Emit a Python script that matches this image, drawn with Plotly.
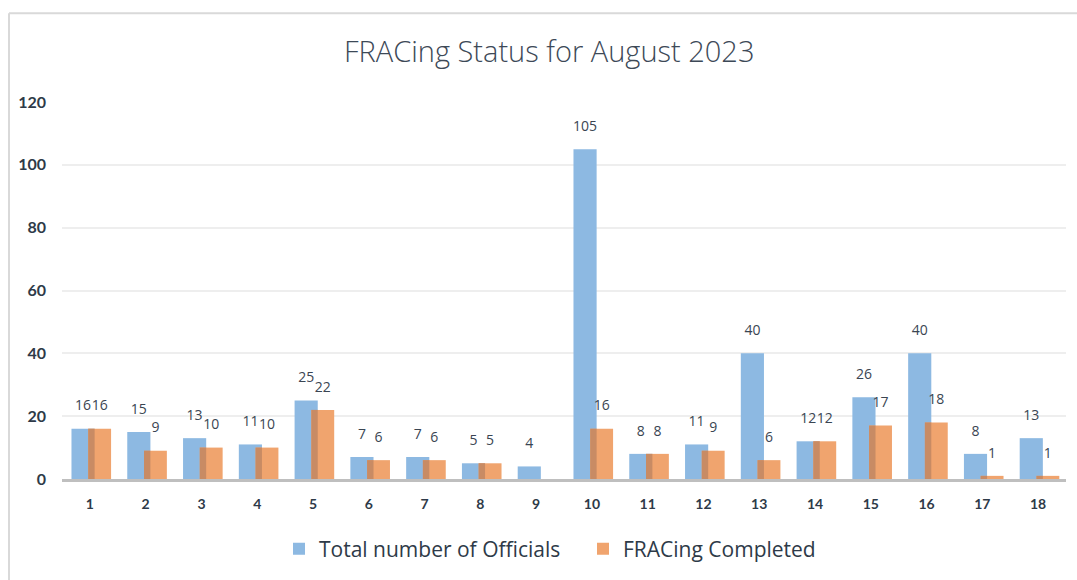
import plotly.graph_objects as go

categories = [str(i) for i in range(1, 19)]
total_officials = [16, 15, 13, 11, 25, 7, 7, 5, 4, 105, 8, 11, 40, 12, 26, 40, 8, 13]
fracing_completed = [16, 9, 10, 10, 22, 6, 6, 5, None, 16, 8, 9, 6, 12, 17, 18, 1, 1]
y_ticks = [0, 20, 40, 60, 80, 100, 120]

overlap = [min(a, b) if b is not None else None for a, b in zip(total_officials, fracing_completed)]
idx = list(range(len(categories)))

BLUE = "#8db9e2"
ORANGE = "#f0a46e"
OVERLAP = "#c88b64"
TXT = "#3a4552"

B_OFF, B_W = -0.33, 0.415
O_OFF, O_W = -0.03, 0.41

fig = go.Figure()
fig.add_trace(go.Bar(
    x=idx, y=total_officials, name="Total number of Officials",
    marker=dict(color=BLUE, line=dict(width=0)), offset=B_OFF, width=B_W,
))
fig.add_trace(go.Bar(
    x=idx, y=fracing_completed, name="FRACing Completed",
    marker=dict(color=ORANGE, line=dict(width=0)), offset=O_OFF, width=O_W,
))
fig.add_trace(go.Bar(
    x=idx, y=overlap, showlegend=False, hoverinfo="skip",
    marker=dict(color=OVERLAP, line=dict(width=0)), offset=O_OFF, width=B_OFF + B_W - O_OFF,
))
# data labels
fig.add_trace(go.Scatter(
    x=[i + B_OFF + B_W / 2 for i in idx], y=total_officials, mode="markers+text",
    text=[str(v) for v in total_officials], textposition="top center",
    marker=dict(size=22, color="rgba(0,0,0,0)"), showlegend=False, hoverinfo="skip",
    cliponaxis=False, textfont=dict(family="Open Sans", size=14, color=TXT),
))
fig.add_trace(go.Scatter(
    x=[i + O_OFF + O_W / 2 for i in idx], y=fracing_completed, mode="markers+text",
    text=["" if v is None else str(v) for v in fracing_completed], textposition="top center",
    marker=dict(size=22, color="rgba(0,0,0,0)"), showlegend=False, hoverinfo="skip",
    cliponaxis=False, textfont=dict(family="Open Sans", size=14, color=TXT),
))

fig.update_layout(
    width=1077, height=580,
    barmode="overlay",
    paper_bgcolor="white", plot_bgcolor="white",
    margin=dict(l=62, r=11, t=102, b=100),
    title=dict(text="FRACing Status for August 2023", x=0.51, xanchor="center",
               y=1 - 52 / 580, yanchor="middle",
               font=dict(family="Open Sans", size=29, color="#3d4957", weight=300)),
    font=dict(family="Open Sans", color=TXT),
    legend=dict(orientation="h", x=(279 - 62) / 1004, xanchor="left", y=-0.183, yanchor="middle",
                font=dict(size=21, color="#2e3a48"), itemwidth=30, traceorder="normal",
                entrywidth=259, entrywidthmode="pixels"),
    xaxis=dict(range=[-0.5, len(categories) - 0.5], tickvals=idx, ticktext=categories,
               showline=True, linecolor="#bfbfbf", linewidth=3, ticks="",
               tickfont=dict(family="Lato", size=14, color="#2e3a48", weight="bold"),
               showgrid=False, zeroline=False, ticklabelstandoff=10),
    yaxis=dict(range=[0, 120], tickvals=y_ticks, showgrid=True, gridcolor="#eeeeee",
               gridwidth=1.5, zeroline=False, showline=False,
               tickfont=dict(family="Lato", size=16, color="#2e3a48", weight="bold"),
               ticklabelstandoff=15),
    shapes=[
        dict(type="line", xref="paper", yref="paper",
             x0=(9 - 62) / (1077 - 62 - 11), x1=(1077 - 62) / (1077 - 62 - 11) + 0.01,
             y0=(580 - 100 - 13) / 378, y1=(580 - 100 - 13) / 378,
             line=dict(color="#d9d9d9", width=2)),
        dict(type="line", xref="paper", yref="paper",
             x0=(9 - 62) / (1077 - 62 - 11), x1=(9 - 62) / (1077 - 62 - 11),
             y0=(580 - 100 - 13) / 378, y1=-0.3,
             line=dict(color="#d9d9d9", width=2)),
    ],
)

fig.write_html("out.html", config={"displayModeBar": False},
               post_script="document.body.style.margin='0px';")
